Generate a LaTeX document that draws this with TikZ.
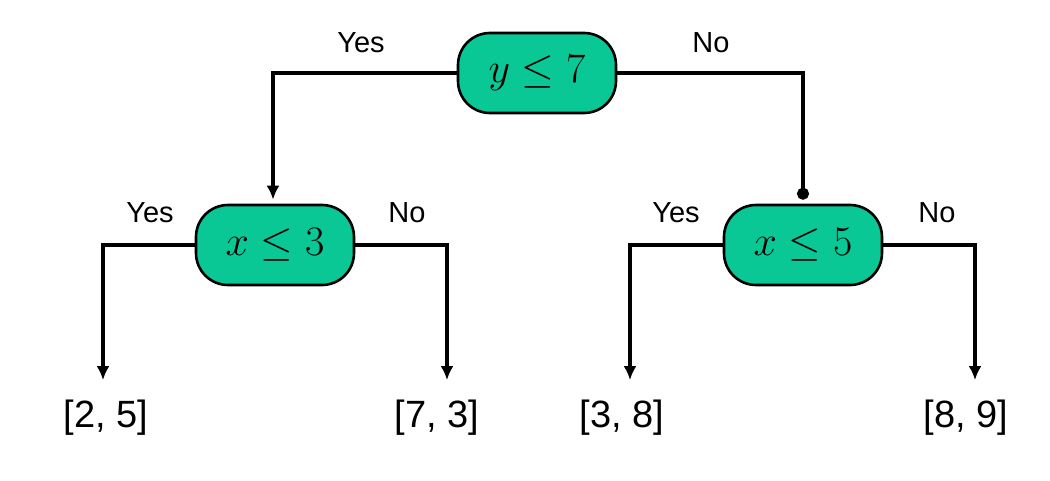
\RequirePackage{fix-cm}
\documentclass[tikz,border=0pt]{standalone}
\usepackage{fontspec}
\setsansfont{Liberation Sans}
\usetikzlibrary{arrows.meta}
\definecolor{nodegreen}{RGB}{10,200,150}
\begin{document}
\begin{tikzpicture}[x=1pt,y=-1pt,
  test/.style={draw=black,line width=2.6pt,fill=nodegreen,rounded corners=32pt,
    minimum width=158pt,minimum height=80pt,inner sep=0pt,font=\fontsize{42}{46}\selectfont},
  leaf/.style={inner sep=0pt,font=\sffamily\fontsize{38}{42}\selectfont},
  lab/.style={inner sep=0pt,font=\sffamily\fontsize{29}{32}\selectfont},
  conn/.style={line width=3.2pt,-{Latex[length=14pt,width=13pt]}},
  conndot/.style={line width=3.2pt,-{Circle[length=12pt]}}]
\useasboundingbox (0,0) rectangle (1050,481);
\node[test] (r) at (537,73) {$y\leq 7$};
\node[test] (a) at (275,245) {$x\leq 3$};
\node[test] (b) at (803,245) {$x\leq 5$};
\node[leaf] (l1) at (106,418) {[2, 5]};
\node[leaf] (l2) at (437,418) {[7, 3]};
\node[leaf] (l3) at (622,418) {[3, 8]};
\node[leaf] (l4) at (966,418) {[8, 9]};
\node[lab] (y0) at (361,43) {Yes};
\node[lab] (n0) at (711,43) {No};
\node[lab] (y1) at (150,213) {Yes};
\node[lab] (n1) at (407,213) {No};
\node[lab] (y2) at (676,213) {Yes};
\node[lab] (n2) at (937,213) {No};
\draw[conn,shorten >=4pt] (r.west) -| ([xshift=-2pt]a.north);
\draw[conndot,shorten >=4pt] (r.east) -| (b.north);
\draw[conn,shorten >=20pt] (a.west) -| ([xshift=-3pt]l1.north);
\draw[conn,shorten >=20pt] (a.east) -| ([xshift=10pt]l2.north);
\draw[conn,shorten >=20pt] (b.west) -| ([xshift=8pt]l3.north);
\draw[conn,shorten >=20pt] (b.east) -| ([xshift=9pt]l4.north);
\end{tikzpicture}
\end{document}
